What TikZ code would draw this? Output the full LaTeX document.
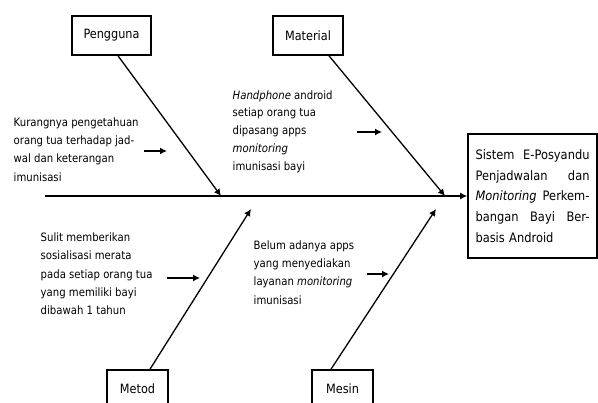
\documentclass[tikz,border=0pt]{standalone}
\usepackage{fontspec}
\setsansfont{DejaVu Sans}[FakeStretch=0.88]
\usetikzlibrary{arrows.meta, positioning}

\begin{document}
\begin{tikzpicture}[x=1pt,y=-1pt,font=\sffamily,->,>={Latex[length=7pt,width=7pt]},line width=1.4pt]

	\tikzset{cause st/.style={draw, line width=1.6pt,
			minimum height=39pt, inner sep=0pt,
			font=\sffamily\fontsize{12.8}{15}\selectfont},
		effect st/.style={draw, line width=1.6pt,
			minimum width=129pt, minimum height=124pt,
			text width=114pt, inner xsep=7.5pt, align=left,
			font=\sffamily\fontsize{13}{20.7}\selectfont},
		note st/.style={anchor=west, inner sep=0pt, align=left,
			font=\sffamily\fontsize{11.5}{18.3}\selectfont}}

	\clip (0,0) rectangle (598,403);

	% kategori penyebab
	\node[cause st, minimum width=79pt] (pengguna) at (111.5,35.5) {Pengguna};
	\node[cause st, minimum width=70pt] (material) at (308,35.5) {Material};
	\node[cause st, minimum width=61pt, minimum height=38pt] (metod) at (137.5,389) {Metod};
	\node[cause st, minimum width=61pt, minimum height=38pt] (mesin) at (342.5,389) {Mesin};

	% akibat
	\node[effect st] (efek) at (532.5,196) {Sistem\hfill E-Posyandu\\
		Penjadwalan\hfill dan\\
		\textit{Monitoring}\hfill Perkem-\\
		bangan\hfill Bayi\hfill Ber-\\
		basis Android};

	% sebab
	\node[note st] (kurang) at (13,149.5) {Kurangnya pengetahuan\\orang tua terhadap jad-\\wal dan keterangan\\imunisasi};
	\node[note st, font=\sffamily\fontsize{11.5}{17.8}\selectfont] (hp) at (232,131.5) {\textit{Handphone} android\\setiap orang tua\\dipasang apps\\\textit{monitoring}\\imunisasi bayi};
	\node[note st] (sulit) at (40,274) {Sulit memberikan\\sosialisasi merata\\pada setiap orang tua\\yang memiliki bayi\\dibawah 1 tahun};
	\node[note st] (belum) at (253,272.5) {Belum adanya apps\\yang menyediakan\\layanan \textit{monitoring}\\imunisasi};

	\coordinate (spine) at (45,196);
	\coordinate (j1) at (221,196);
	\coordinate (j2) at (445,196);
	\coordinate (j3) at (251,209);
	\coordinate (j4) at (436,209);

	\coordinate (a1) at (144,151);
	\coordinate (a2) at (357,132);
	\coordinate (a3) at (167,278);
	\coordinate (a4) at (367,274);

	\draw (spine) -- (efek.west);

	\draw[-, line width=1.3pt]
	([xshift=6.5pt]pengguna.south) edge[->] (j1)
	([xshift=21pt]material.south) edge[->] (j2)
	([xshift=12.5pt]metod.north) edge[->] (j3)
	([xshift=-11.5pt]mesin.north) edge[->] (j4);

	\draw[-, line width=1.2pt]
	(a1) edge[->] ++(23,0)
	(a2) edge[->] ++(25,0)
	(a3) edge[->] ++(33,0)
	(a4) edge[->] ++(22,0);

\end{tikzpicture}
\end{document}
